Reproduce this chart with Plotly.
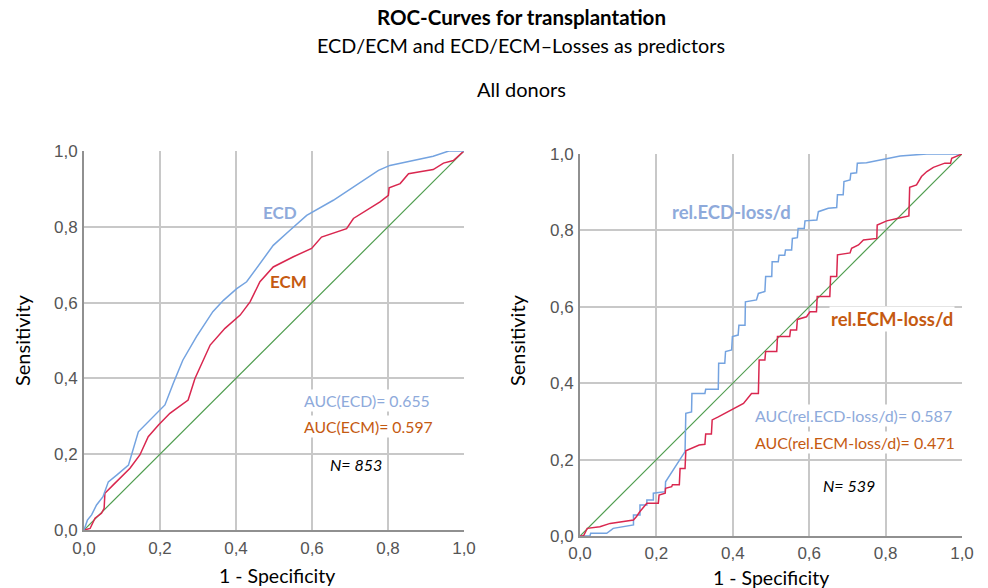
import plotly.graph_objects as go

# ---- data ----
ecd_fpr = [0, 0.009, 0.02, 0.033, 0.05, 0.064, 0.086, 0.117, 0.143, 0.174, 0.213, 0.235, 0.26, 0.296, 0.339,
           0.367, 0.402, 0.428, 0.463, 0.498, 0.542, 0.586, 0.656, 0.717, 0.775, 0.805, 0.867, 0.919, 0.96, 1.0]
ecd_tpr = [0, 0.026, 0.04, 0.066, 0.088, 0.127, 0.145, 0.171, 0.259, 0.29, 0.33, 0.387, 0.448, 0.51, 0.576,
           0.606, 0.637, 0.655, 0.703, 0.751, 0.791, 0.83, 0.87, 0.91, 0.949, 0.962, 0.975, 0.986, 1.0, 1.0]

ecm_fpr = [0, 0.016, 0.029, 0.046, 0.053, 0.055, 0.077, 0.121, 0.147, 0.169, 0.196, 0.226, 0.274, 0.292, 0.332,
           0.371, 0.411, 0.437, 0.463, 0.498, 0.551, 0.599, 0.625, 0.691, 0.709, 0.779, 0.801, 0.803, 0.832,
           0.854, 0.884, 0.919, 0.946, 0.972, 1.0]
ecm_tpr = [0, 0.004, 0.031, 0.044, 0.057, 0.097, 0.119, 0.163, 0.198, 0.246, 0.277, 0.308, 0.343, 0.4, 0.488,
           0.532, 0.567, 0.602, 0.655, 0.694, 0.721, 0.743, 0.773, 0.795, 0.822, 0.866, 0.883, 0.903, 0.914,
           0.94, 0.945, 0.951, 0.968, 0.975, 1.0]

recd_fpr = [0, 0.026, 0.028, 0.07, 0.087, 0.14, 0.14, 0.157, 0.157, 0.175, 0.175, 0.192, 0.192, 0.223, 0.224,
            0.275, 0.277, 0.292, 0.293, 0.327, 0.329, 0.362, 0.363, 0.379, 0.381, 0.397, 0.399, 0.414, 0.416,
            0.432, 0.433, 0.462, 0.467, 0.484, 0.486, 0.502, 0.503, 0.519, 0.521, 0.536, 0.538, 0.554, 0.556,
            0.569, 0.571, 0.587, 0.589, 0.62, 0.624, 0.637, 0.65, 0.672, 0.674, 0.689, 0.691, 0.707, 0.709,
            0.724, 0.726, 0.75, 0.794, 0.838, 0.908, 1.0]
recd_tpr = [0, 0, 0.007, 0.007, 0.02, 0.029, 0.055, 0.055, 0.081, 0.081, 0.094, 0.094, 0.112, 0.116, 0.142,
            0.221, 0.321, 0.325, 0.373, 0.373, 0.384, 0.384, 0.452, 0.452, 0.483, 0.487, 0.522, 0.526, 0.552,
            0.552, 0.613, 0.618, 0.635, 0.64, 0.679, 0.679, 0.718, 0.718, 0.735, 0.735, 0.749, 0.749, 0.779,
            0.781, 0.805, 0.805, 0.825, 0.827, 0.849, 0.853, 0.858, 0.86, 0.893, 0.893, 0.928, 0.932, 0.949,
            0.951, 0.976, 0.977, 0.986, 0.995, 1.0, 1.0]

recm_fpr = [0, 0.009, 0.019, 0.052, 0.079, 0.113, 0.14, 0.148, 0.157, 0.175, 0.205, 0.207, 0.223, 0.224, 0.24,
            0.242, 0.26, 0.262, 0.275, 0.277, 0.292, 0.312, 0.327, 0.329, 0.344, 0.346, 0.362, 0.38, 0.401,
            0.428, 0.449, 0.467, 0.469, 0.484, 0.486, 0.515, 0.517, 0.549, 0.551, 0.567, 0.569, 0.593, 0.602,
            0.619, 0.621, 0.654, 0.656, 0.672, 0.674, 0.707, 0.711, 0.729, 0.742, 0.777, 0.778, 0.803, 0.833,
            0.861, 0.863, 0.881, 0.894, 0.908, 0.925, 0.955, 0.97, 0.973, 1.0]
recm_tpr = [0, 0, 0.02, 0.024, 0.033, 0.038, 0.042, 0.051, 0.064, 0.086, 0.086, 0.107, 0.112, 0.125, 0.129,
            0.134, 0.134, 0.177, 0.177, 0.223, 0.23, 0.238, 0.24, 0.267, 0.267, 0.304, 0.312, 0.321, 0.332,
            0.347, 0.373, 0.373, 0.461, 0.461, 0.483, 0.483, 0.522, 0.522, 0.539, 0.539, 0.567, 0.574, 0.587,
            0.587, 0.627, 0.627, 0.679, 0.679, 0.736, 0.741, 0.753, 0.762, 0.775, 0.779, 0.814, 0.825, 0.832,
            0.838, 0.913, 0.919, 0.941, 0.954, 0.965, 0.976, 0.976, 0.989, 1.0]

diag = [0, 1]
tick_vals = [0, 0.2, 0.4, 0.6, 0.8, 1.0]

auc_left = {"ECD": 0.655, "ECM": 0.597}
auc_right = {"rel.ECD-loss/d": 0.587, "rel.ECM-loss/d": 0.471}
n_left, n_right = 853, 539

# ---- styles ----
BLUE_LINE = "#74a3e0"
BLUE_TXT = "#8eaadb"
RED_LINE = "#d9274f"
GREEN = "#4f9d4f"
ORANGE = "#c55a11"
GRID = "#c8c8c8"
FONT = "Lato"

fig = go.Figure()
fig.add_trace(go.Scatter(x=diag, y=diag, mode="lines", line=dict(color=GREEN, width=1.2), xaxis="x", yaxis="y"))
fig.add_trace(go.Scatter(x=ecm_fpr, y=ecm_tpr, mode="lines", line=dict(color=RED_LINE, width=1.5), xaxis="x", yaxis="y"))
fig.add_trace(go.Scatter(x=ecd_fpr, y=ecd_tpr, mode="lines", line=dict(color=BLUE_LINE, width=1.5), xaxis="x", yaxis="y"))

fig.add_trace(go.Scatter(x=diag, y=diag, mode="lines", line=dict(color=GREEN, width=1.2), xaxis="x2", yaxis="y2"))
fig.add_trace(go.Scatter(x=recd_fpr, y=recd_tpr, mode="lines", line=dict(color=BLUE_LINE, width=1.5), xaxis="x2", yaxis="y2"))
fig.add_trace(go.Scatter(x=recm_fpr, y=recm_tpr, mode="lines", line=dict(color=RED_LINE, width=1.5), xaxis="x2", yaxis="y2"))

W, H = 988, 588
def px(x): return x / W
def py(y): return 1 - y / H

axis_common = dict(range=[0, 1], tickvals=tick_vals, tickformat=".1f", showgrid=True, gridcolor=GRID, gridwidth=1.8,
                   showline=True, linecolor="#909090", linewidth=1.8, mirror=False, zeroline=False,
                   automargin=False, ticks="", tickfont=dict(family="Liberation Sans", size=17, color="#555555"))

fig.update_layout(
    width=W, height=H, margin=dict(l=0, r=0, t=0, b=0),
    paper_bgcolor="white", plot_bgcolor="white", showlegend=False,
    separators=", ",
    font=dict(family=FONT),
    xaxis=dict(domain=[px(84), px(464)], anchor="y", ticklabelstandoff=2, **axis_common),
    yaxis=dict(domain=[py(530), py(151)], anchor="x", ticklabelstandoff=1, **axis_common),
    xaxis2=dict(domain=[px(580), px(962)], anchor="y2", ticklabelstandoff=1, **axis_common),
    yaxis2=dict(domain=[py(536), py(154)], anchor="x2", ticklabelstandoff=1, **axis_common),
)

ann = []
def txt(text, x, y, xref="paper", yref="paper", size=17, color="black", xanchor="center", bg=None, **kw):
    d = dict(text=text, x=x, y=y, xref=xref, yref=yref, showarrow=False, xanchor=xanchor, yanchor="middle",
             font=dict(family=FONT, size=size, color=color))
    if bg:
        d["bgcolor"] = bg
    d.update(kw)
    ann.append(d)

txt("<b>ROC-Curves for transplantation</b>", px(521), py(17), size=20.5)
txt("ECD/ECM and ECD/ECM–Losses as predictors", px(521), py(45), size=19.8)
txt("All donors", px(521), py(89), size=20)

txt("Sensitivity", px(22), py(340), size=20, textangle=-90)
txt("1 - Specificity", px(277), py(575), size=19.5)
txt("Sensitivity", px(517), py(340), size=20, textangle=-90)
txt("1 - Specificity", px(771), py(577), size=19.5)

# left panel labels
txt("<b>ECD</b>", 0.516, 0.839, "x", "y", size=17, color=BLUE_TXT)
txt("<b>ECM</b>", 0.538, 0.655, "x", "y", size=17, color=ORANGE)
txt(f"AUC(ECD)= {auc_left['ECD']:.3f}", 0.573, 0.341, "x", "y", size=15.8, color=BLUE_TXT, xanchor="left", bg="white")
txt(f"AUC(ECM)= {auc_left['ECM']:.3f}", 0.573, 0.272, "x", "y", size=15.8, color=ORANGE, xanchor="left", bg="white")
txt(f"<i>N= {n_left}</i>", 0.716, 0.174, "x", "y", size=16, color="black")

# right panel labels
txt("<b>rel.ECD-loss/d</b>", 0.397, 0.849, "x2", "y2", size=18.5, color=BLUE_TXT)
txt("<b>rel.ECM-loss/d</b>", 0.818, 0.568, "x2", "y2", size=18.5, color=ORANGE, bg="white")
txt(f"AUC(rel.ECD-loss/d)= {auc_right['rel.ECD-loss/d']:.3f}", 0.454, 0.315, "x2", "y2", size=16, color=BLUE_TXT, xanchor="left", bg="white")
txt(f"AUC(rel.ECM-loss/d)= {auc_right['rel.ECM-loss/d']:.3f}", 0.454, 0.245, "x2", "y2", size=16, color=ORANGE, xanchor="left", bg="white")
txt(f"<i>N= {n_right}</i>", 0.704, 0.133, "x2", "y2", size=16, color="black")

fig.update_layout(annotations=ann)
fig.write_html("out.html")
